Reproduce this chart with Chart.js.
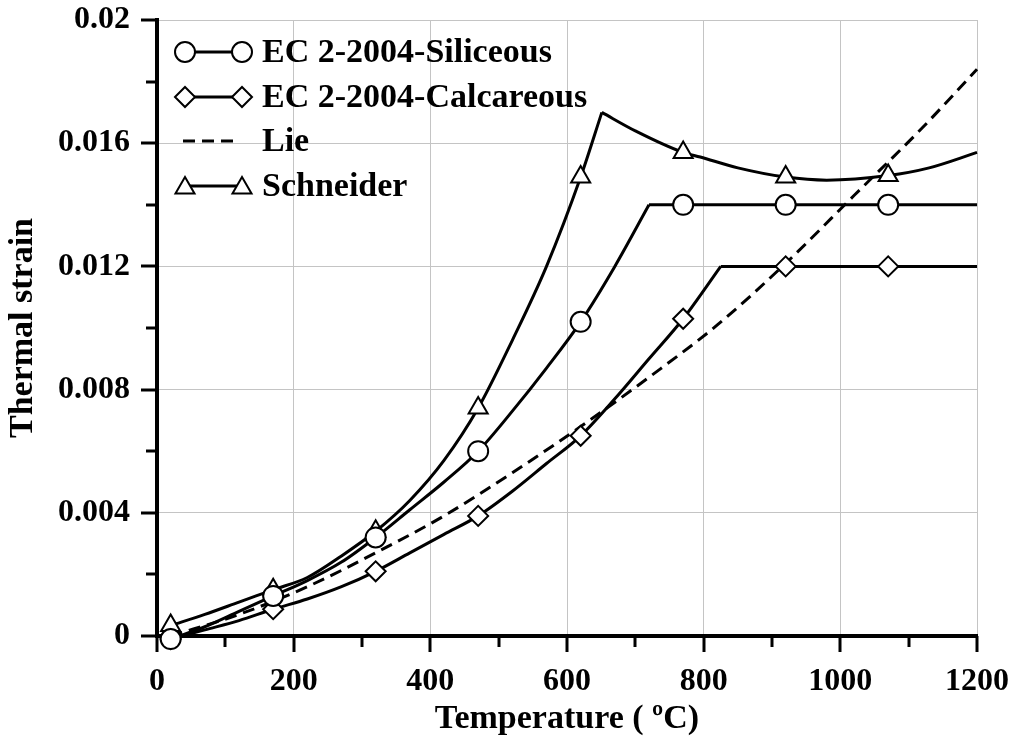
<!DOCTYPE html>
<html>
<head>
<meta charset="utf-8">
<script src="https://cdn.jsdelivr.net/npm/chart.js@4"></script>
<style>
  html, body { margin: 0; padding: 0; background: #fff; }
  #wrap { width: 1014px; height: 736px; position: relative; }
</style>
</head>
<body>
<div id="wrap"><canvas id="strainChart"></canvas></div>
<script>
// temperatures where the symbols sit
const markerTemps = [20, 170, 320, 470, 620, 770, 920, 1070];

const siliceousTemps = [20, 70, 120, 170, 220, 270, 320, 370, 420, 470, 520, 570, 620, 670, 720, 770, 920, 1070, 1200];
const siliceousStrain = [-0.0001, 0.0003, 0.0008, 0.0013, 0.0018, 0.0024, 0.0032, 0.0041, 0.0050, 0.0060, 0.0073, 0.0087, 0.0102, 0.0120, 0.0140, 0.0140, 0.0140, 0.0140, 0.0140];
const siliceousKink = 720;

const calcareousTemps = [20, 70, 120, 170, 220, 270, 320, 370, 420, 470, 520, 570, 620, 670, 720, 770, 825, 920, 1070, 1200];
const calcareousStrain = [-0.0001, 0.0002, 0.0005, 0.00087, 0.0012, 0.0016, 0.0021, 0.0027, 0.0033, 0.0039, 0.0047, 0.0056, 0.0065, 0.0077, 0.0090, 0.0103, 0.0120, 0.0120, 0.0120, 0.0120];
const calcareousKink = 825;

const lieTemps = [20, 120, 220, 320, 420, 520, 620, 720, 820, 920, 1020, 1120, 1200];
const lieStrain = [0, 0.0007, 0.0016, 0.0027, 0.0039, 0.0053, 0.0068, 0.0084, 0.0101, 0.0121, 0.0143, 0.0165, 0.0184];

const schneiderTemps = [20, 70, 120, 170, 220, 270, 320, 370, 420, 470, 520, 570, 620, 651, 700, 770, 795, 850, 920, 980, 1070, 1130, 1200];
const schneiderStrain = [0.00034, 0.0007, 0.0011, 0.0015, 0.0019, 0.0026, 0.0034, 0.0044, 0.0057, 0.0074, 0.0096, 0.0120, 0.0149, 0.0170, 0.0164, 0.0157, 0.01555, 0.0152, 0.0149, 0.0148, 0.01495, 0.0152, 0.0157];
const schneiderKink = 651;

const xTickLabels = ['0', '200', '400', '600', '800', '1000', '1200'];
const yTickLabels = ['0', '0.004', '0.008', '0.012', '0.016', '0.02'];

const seriesNames = ['EC 2-2004-Siliceous', 'EC 2-2004-Calcareous', 'Lie', 'Schneider'];
const seriesSymbols = ['circle', 'rectRot', null, 'triangle'];
const lieDash = [12, 7];

const FONT = '"Liberation Serif", "Times New Roman", serif';

function toPoints(temps, vals, from, to) {
    return temps.map((t, i) => ({x: t, y: vals[i]}))
        .filter(p => p.x >= from && p.x <= to);
}

function makeSeries(label, points, style, radius, dash) {
    return {
        label: label,
        data: points,
        borderColor: '#000',
        borderWidth: 3,
        borderDash: dash || [],
        backgroundColor: '#fff',
        pointStyle: style || false,
        pointBorderColor: '#000',
        pointBackgroundColor: '#fff',
        pointBorderWidth: 2,
        pointRadius: ctx => (style && markerTemps.includes(ctx.raw.x)) ? radius : 0,
        pointHoverRadius: 0,
        cubicInterpolationMode: 'monotone',
        fill: false,
        clip: false
    };
}

// each curve with a corner is split there so the smoothing keeps the corner sharp
const chartData = {
    datasets: [
        makeSeries(seriesNames[0], toPoints(siliceousTemps, siliceousStrain, 0, siliceousKink), 'circle', 10),
        makeSeries(seriesNames[0], toPoints(siliceousTemps, siliceousStrain, siliceousKink, 1200), 'circle', 10),
        makeSeries(seriesNames[1], toPoints(calcareousTemps, calcareousStrain, 0, calcareousKink), 'rectRot', 10),
        makeSeries(seriesNames[1], toPoints(calcareousTemps, calcareousStrain, calcareousKink, 1200), 'rectRot', 10),
        makeSeries(seriesNames[2], toPoints(lieTemps, lieStrain, 0, 1200), null, 0, lieDash),
        makeSeries(seriesNames[3], toPoints(schneiderTemps, schneiderStrain, 0, schneiderKink), 'triangle', 11),
        makeSeries(seriesNames[3], toPoints(schneiderTemps, schneiderStrain, schneiderKink, 1200), 'triangle', 11)
    ]
};

// marker - line - marker legend in the upper left
const legendRows = {
    id: 'legendRows',
    afterDatasetsDraw(chart) {
        const ctx = chart.ctx;
        const rowY = [52, 97, 141, 186];
        const x0 = 185, x1 = 242, textX = 262;
        ctx.save();
        seriesNames.forEach((name, i) => {
            const y = rowY[i];
            const sym = seriesSymbols[i];
            ctx.strokeStyle = '#000';
            ctx.lineWidth = 3;
            ctx.beginPath();
            if (sym) {
                ctx.moveTo(x0, y);
                ctx.lineTo(x1, y);
            } else {
                ctx.setLineDash(lieDash);
                ctx.moveTo(x0 - 2, y);
                ctx.lineTo(x1 - 4, y);
            }
            ctx.stroke();
            ctx.setLineDash([]);
            if (sym) {
                const r = sym === 'triangle' ? 11 : 10;
                ctx.fillStyle = '#fff';
                ctx.lineWidth = 2;
                [x0, x1].forEach(px => {
                    Chart.helpers.drawPoint(ctx, {pointStyle: sym, radius: r, rotation: 0, borderWidth: 2},
                        px, y + (sym === 'triangle' ? 2 : 0));
                });
            }
            ctx.fillStyle = '#000';
            ctx.font = 'bold 34px ' + FONT;
            ctx.textBaseline = 'middle';
            ctx.textAlign = 'left';
            ctx.fillText(name, textX, y + 1);
        });
        ctx.restore();
    }
};

// major and minor tick marks outside the axes
const axisTicks = {
    id: 'axisTicks',
    afterDraw(chart) {
        const {ctx, chartArea, scales} = chart;
        ctx.save();
        ctx.strokeStyle = '#000';
        ctx.lineWidth = 3;
        for (let t = 0; t <= 1200; t += 100) {
            const px = Math.round(scales.x.getPixelForValue(t));
            const len = (t % 200 === 0) ? 16 : 11;
            ctx.beginPath();
            ctx.moveTo(px, chartArea.bottom);
            ctx.lineTo(px, chartArea.bottom + len);
            ctx.stroke();
        }
        for (let k = 0; k <= 10; k++) {
            const py = Math.round(scales.y.getPixelForValue(k * 0.002));
            const len = (k % 2 === 0) ? 16 : 11;
            ctx.beginPath();
            ctx.moveTo(chartArea.left, py);
            ctx.lineTo(chartArea.left - len, py);
            ctx.stroke();
        }
        ctx.restore();
    }
};

// the built-in tick marks stay invisible; they only push the labels out
const hiddenTicks = {
    color: '#c4c4c4',
    lineWidth: 1,
    drawTicks: true,
    tickLength: 27,
    tickColor: 'rgba(0,0,0,0)'
};

const chartOptions = {
    responsive: true,
    maintainAspectRatio: false,
    animation: false,
    events: [],
    layout: {
        autoPadding: false,
        padding: {left: 0, top: 20, right: 37, bottom: 0}
    },
    plugins: {
        legend: {display: false},
        tooltip: {enabled: false}
    },
    scales: {
        x: {
            type: 'linear',
            min: 0,
            max: 1200,
            afterFit: scale => { scale.height = 100; },
            grid: hiddenTicks,
            border: {color: '#000', width: 4},
            ticks: {
                stepSize: 200,
                padding: 0,
                color: '#000',
                maxRotation: 0,
                font: {family: FONT, size: 32, weight: 'bold'},
                callback: (v, i) => xTickLabels[i]
            },
            title: {
                display: true,
                text: 'Temperature ( ºC)',
                color: '#000',
                padding: {top: 0, bottom: 0},
                font: {family: FONT, size: 34, weight: 'bold', lineHeight: 1.0}
            }
        },
        y: {
            type: 'linear',
            min: 0,
            max: 0.02,
            afterFit: scale => { scale.width = 157; },
            grid: hiddenTicks,
            border: {color: '#000', width: 4},
            ticks: {
                stepSize: 0.004,
                padding: 0,
                color: '#000',
                font: {family: FONT, size: 32, weight: 'bold'},
                callback: (v, i) => yTickLabels[i]
            },
            title: {
                display: true,
                text: 'Thermal strain',
                color: '#000',
                padding: {top: 3, bottom: 0},
                font: {family: FONT, size: 34, weight: 'bold'}
            }
        }
    }
};

new Chart(document.getElementById('strainChart'), {
    type: 'line',
    data: chartData,
    options: chartOptions,
    plugins: [axisTicks, legendRows]
});
</script>
</body>
</html>
